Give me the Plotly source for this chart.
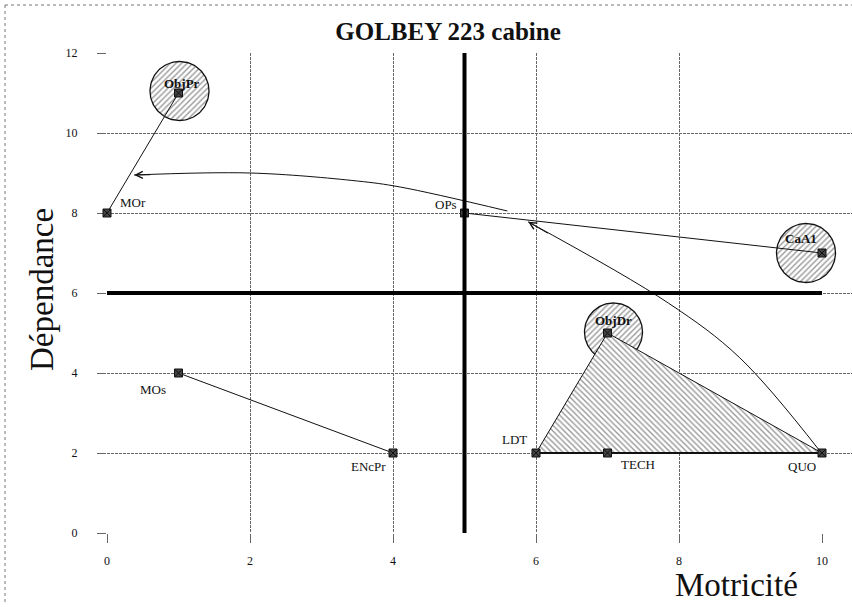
import numpy as np
import plotly.graph_objects as go

# Variables placed on the influence / dependence map
names = ["ObjPr", "MOr", "OPs", "CaA1", "MOs", "ENcPr", "LDT", "TECH", "QUO", "ObjDr"]
motricite = [1, 0, 5, 10, 1, 4, 6, 7, 10, 7]
dependance = [11, 8, 8, 7, 4, 2, 2, 2, 2, 5]
bold_names = ["ObjPr", "CaA1", "ObjDr"]

# Straight links between variables
links = [("MOr", "ObjPr"), ("OPs", "CaA1"), ("MOs", "ENcPr")]
baseline = ["LDT", "TECH", "QUO"]
zone = ["LDT", "ObjDr", "QUO"]

# Quadrant separators
X_SPLIT = 5
Y_SPLIT = 6

# Curved influence arrows (path points, last point = arrow tip)
arrow1_x = [5.6, 4.1, 3.5, 2.0, 0.38]
arrow1_y = [8.05, 8.65, 8.8, 9.0, 8.95]
arrow2_x = [9.97, 8.85, 7.85, 5.89]
arrow2_y = [2.05, 4.38, 5.75, 7.78]

X_RANGE = [0, 10]
Y_RANGE = [0, 12]

# ---- layout geometry (pixels) ----
W, H = 852, 607
L, R, T, B = 107, 822, 53, 533
px_x = (R - L) / (X_RANGE[1] - X_RANGE[0])
px_y = (B - T) / (Y_RANGE[1] - Y_RANGE[0])


def paper_x(px):
    return (px - L) / (W - L)


def paper_y(py):
    return (B - py) / (B - T)


pos = {n: (x, y) for n, x, y in zip(names, motricite, dependance)}
SERIF = "Liberation Serif, Times New Roman, serif"
INK = "#111"
HATCH = "#333"

fig = go.Figure()

# invisible anchor trace for the main (gridded) subplot
fig.add_trace(go.Scatter(x=motricite, y=dependance, mode="markers",
                         marker=dict(opacity=0), hoverinfo="skip", showlegend=False))

# drawing layer: xaxis2 shares the same scale but extends to the right page edge
DRAW = dict(xaxis="x2", yaxis="y")

# hatched circles around key variables: (dx px, dy px up, radius px)
circle_style = {"ObjPr": (1, 2, 29.5), "ObjDr": (6, 1, 29), "CaA1": (-16, 0, 29.5)}
t = np.linspace(0, 2 * np.pi, 121)
for n, (dx, dy, r) in circle_style.items():
    cx = pos[n][0] + dx / px_x
    cy = pos[n][1] + dy / px_y
    fig.add_trace(go.Scatter(
        x=cx + r / px_x * np.cos(t), y=cy + r / px_y * np.sin(t),
        mode="lines", fill="toself", fillcolor="white",
        fillpattern=dict(shape="/", fgcolor=HATCH, bgcolor="white", size=4, solidity=0.35),
        line=dict(color=INK, width=1.3), hoverinfo="skip", showlegend=False, **DRAW,
    ))

# hatched triangle zone
zx = [pos[n][0] for n in zone] + [pos[zone[0]][0]]
zy = [pos[n][1] for n in zone] + [pos[zone[0]][1]]
fig.add_trace(go.Scatter(
    x=zx, y=zy, mode="lines", fill="toself", fillcolor="white",
    fillpattern=dict(shape="\\", fgcolor=HATCH, bgcolor="white", size=4, solidity=0.35),
    line=dict(color=INK, width=1), hoverinfo="skip", showlegend=False, **DRAW,
))

# straight links
for a, b in links:
    fig.add_trace(go.Scatter(
        x=[pos[a][0], pos[b][0]], y=[pos[a][1], pos[b][1]], mode="lines",
        line=dict(color=INK, width=1), hoverinfo="skip", showlegend=False, **DRAW,
    ))
fig.add_trace(go.Scatter(
    x=[pos[n][0] for n in baseline], y=[pos[n][1] for n in baseline], mode="lines",
    line=dict(color=INK, width=2), hoverinfo="skip", showlegend=False, **DRAW,
))

# curved arrows
for ax_, ay_ in [(arrow1_x, arrow1_y), (arrow2_x, arrow2_y)]:
    fig.add_trace(go.Scatter(
        x=ax_, y=ay_, mode="lines",
        line=dict(color=INK, width=1, shape="spline", smoothing=1.0),
        hoverinfo="skip", showlegend=False, **DRAW,
    ))

# variable markers
fig.add_trace(go.Scatter(
    x=motricite, y=dependance, mode="markers",
    marker=dict(symbol="square-x", size=8, color="#444", line=dict(color=INK, width=1)),
    hoverinfo="skip", showlegend=False, cliponaxis=False, **DRAW,
))

# quadrant separators
fig.add_shape(type="line", x0=X_SPLIT, x1=X_SPLIT, y0=Y_RANGE[0], y1=Y_RANGE[1],
              line=dict(color="black", width=4), layer="above")
fig.add_shape(type="line", x0=X_RANGE[0], x1=X_RANGE[1], y0=Y_SPLIT, y1=Y_SPLIT,
              line=dict(color="black", width=4), layer="above")

# arrow heads
for xs, ys in [(arrow1_x, arrow1_y), (arrow2_x, arrow2_y)]:
    tail_x = xs[-1] + (xs[-2] - xs[-1]) * 0.15
    tail_y = ys[-1] + (ys[-2] - ys[-1]) * 0.15
    fig.add_annotation(x=xs[-1], y=ys[-1], ax=tail_x, ay=tail_y, axref="x", ayref="y",
                       text="", showarrow=True, arrowhead=5, arrowsize=1.4, arrowwidth=1,
                       arrowcolor=INK, standoff=0)

# variable labels: (anchor, xshift px, yshift px)
label_pos = {
    "MOr": ("left", 11, 11), "OPs": ("right", -6, 9), "MOs": ("right", -11, -16),
    "ENcPr": ("right", -5, -13), "LDT": ("right", -7, 14), "TECH": ("left", 11, -11),
    "QUO": ("right", -4, -13), "ObjPr": ("center", 3, 10), "ObjDr": ("center", 6, 13),
    "CaA1": ("right", -3, 15),
}
for n in names:
    anc, xs_, ys_ = label_pos[n]
    txt = f"<b>{n}</b>" if n in bold_names else n
    fig.add_annotation(x=pos[n][0], y=pos[n][1], text=txt, showarrow=False,
                       xanchor=anc, yanchor="middle", xshift=xs_, yshift=ys_,
                       font=dict(family=SERIF, size=13, color=INK))

# axis titles
fig.add_annotation(xref="paper", yref="paper", x=paper_x(736), y=paper_y(585),
                   text="Motricité", showarrow=False, xanchor="center", yanchor="middle",
                   font=dict(family=SERIF, size=33, color=INK))
fig.add_annotation(xref="paper", yref="paper", x=paper_x(42), y=paper_y(290),
                   text="Dépendance", textangle=-90, showarrow=False,
                   xanchor="center", yanchor="middle",
                   font=dict(family=SERIF, size=33, color=INK))

# outer frame (left and top edges)
fig.add_shape(type="line", xref="paper", yref="paper", x0=paper_x(5), x1=paper_x(5),
              y0=paper_y(5), y1=paper_y(603), line=dict(color="#777", width=1, dash="dot"))
fig.add_shape(type="line", xref="paper", yref="paper", x0=paper_x(5), x1=paper_x(852),
              y0=paper_y(5), y1=paper_y(5), line=dict(color="#777", width=1, dash="dot"))

axis_common = dict(
    showgrid=True, gridcolor="#666", gridwidth=1, griddash="3px,1px",
    zeroline=False, showline=False, ticks="outside", ticklen=9, tickcolor="#666",
    tickwidth=1, tickfont=dict(family=SERIF, size=12, color="#111"), dtick=2,
    automargin=False,
)
fig.update_layout(
    xaxis=dict(range=X_RANGE, tick0=0, ticklabelstandoff=8,
               domain=[0, (R - L) / (W - L)], **axis_common),
    yaxis=dict(range=Y_RANGE, tick0=0, ticklabelstandoff=17, **axis_common),
    xaxis2=dict(range=[X_RANGE[0], X_RANGE[0] + (W - L) / px_x], domain=[0, 1],
                anchor="y", visible=False, showgrid=False, zeroline=False,
                automargin=False),
)

fig.update_layout(
    width=W, height=H,
    margin=dict(l=L, r=0, t=T, b=H - B, autoexpand=False),
    paper_bgcolor="white", plot_bgcolor="rgba(0,0,0,0)",
    title=dict(text="<b>GOLBEY 223 cabine</b>", x=448 / W, xanchor="center",
               y=1 - 31 / H, yanchor="middle",
               font=dict(family=SERIF, size=25, color=INK)),
    showlegend=False,
)

fig.write_html("out.html")
